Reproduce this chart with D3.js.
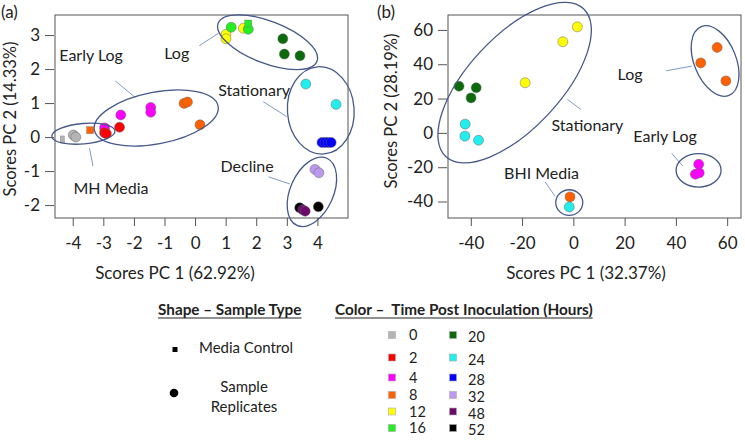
<!DOCTYPE html>
<html>
<head>
<meta charset="utf-8">
<script src="https://cdn.jsdelivr.net/npm/d3@7"></script>
<style>
  html, body { margin: 0; padding: 0; background: #fff; }
  svg { display: block; font-family: Lato, "Open Sans", sans-serif; }
</style>
</head>
<body>
<svg id="chart" width="745" height="440"></svg>
<script>
// ---------- DATA ----------
const hours = [0, 2, 4, 8, 12, 16, 20, 24, 28, 32, 48, 52];
const hourColors = ["#b4b4b4", "#ff0000", "#ff00ff", "#ff6000", "#ffff00", "#22ee22",
                    "#0b6b0b", "#22eeee", "#0000ff", "#bb99ee", "#6a0a6a", "#000000"];

// Panel (a): MH media
const aPC1  = [-4.34, -3.98, -3.90, -3.43, -2.96, -2.96, -2.90, -2.47, -2.43, -1.45, -1.45,
               -0.36, -0.25, 0.16, 1.01, 1.01, 1.18, 1.58, 1.74, 1.74, 2.87, 2.92, 3.43,
               3.62, 4.61, 4.15, 4.25, 4.35, 4.45, 3.92, 4.05, 3.42, 3.52, 3.60, 4.03];
const aPC2  = [-0.07, 0.06, 0.00, 0.20, 0.27, 0.13, 0.10, 0.29, 0.65, 0.87, 0.73,
               0.99, 1.03, 0.36, 3.02, 2.89, 3.23, 3.20, 3.34, 3.17, 2.89, 2.44, 2.39,
               1.56, 0.96, -0.16, -0.16, -0.16, -0.16, -0.95, -1.05, -2.08, -2.14, -2.18, -2.05];
const aHour = [0, 0, 0, 8, 4, 2, 2, 2, 4, 4, 4,
               8, 8, 8, 12, 12, 16, 12, 16, 16, 20, 20, 20,
               24, 24, 28, 28, 28, 28, 32, 32, 52, 48, 48, 52];
const aType = ["M", "S", "S", "M", "S", "S", "S", "S", "S", "S", "S",
               "S", "S", "S", "S", "S", "S", "S", "M", "S", "S", "S", "S",
               "S", "S", "S", "S", "S", "S", "S", "S", "S", "S", "S", "S"];

// Panel (b): BHI media
const bPC1  = [1.56, -4.1, -18.8, -44.6, -37.9, -39.9, -42.2, -42.3, -37.0,
               56.1, 49.7, 59.5, 48.9, 47.6, 49.1, -1.3, -1.6];
const bPC2  = [61.8, 53.1, 29.2, 27.2, 26.3, 20.4, 5.1, -1.9, -4.3,
               49.8, 40.8, 30.3, -18.3, -24.1, -23.3, -37.3, -43.2];
const bHour = [12, 12, 12, 20, 20, 20, 24, 24, 24, 8, 8, 8, 4, 4, 4, 8, 24];

// Axis ticks
const aTicksX = [-4, -3, -2, -1, 0, 1, 2, 3, 4];
const aTicksY = [-2, -1, 0, 1, 2, 3];
const bTicksX = [-40, -20, 0, 20, 40, 60];
const bTicksY = [-40, -20, 0, 20, 40, 60];

// Group annotations (label text)
const aGroups = ["MH Media", "Early Log", "Log", "Stationary", "Decline"];
const bGroups = ["Stationary", "Log", "Early Log", "BHI Media"];

// ---------- LAYOUT ----------
const svg = d3.select("#chart");
const ellipseColor = "#46598a";
const leaderColor = "#7f9ac6";
const axisColor = "#555";

const panels = [
  {
    tag: "(a)", tagX: 1,
    box: [55, 15, 348, 218],
    xDom: [-4.58, 5.0], yDom: [-2.38, 3.59],
    ticksX: aTicksX, ticksY: aTicksY,
    xTitle: "Scores PC 1 (62.92%)", yTitle: "Scores PC 2 (14.33%)",
    yTitleX: 16, yTitleY: 119, xTitleX: 175,
    pc1: aPC1, pc2: aPC2, hour: aHour, type: aType,
    groups: aGroups,
    // ellipse: [cx, cy, rx(x-units), ry(y-units), angle]
    ell: [[-3.65, 0.10, 1.036, 0.30, -5], [-1.27, 0.56, 2.06, 0.76, -11], [2.37, 2.79, 1.73, 0.62, 21],
          [4.11, 0.785, 1.09, 1.285, -4], [3.82, -1.61, 0.705, 1.08, 24]],
    // label centre [x, y], leader [x1, y1, x2, y2]
    lab: [[-2.75, -1.50], [-3.40, 2.41], [-0.60, 2.47], [1.93, 1.36], [1.70, -0.87]],
    lead: [[-3.45, -0.33, -3.34, -0.85], [-2.61, 1.65, -1.96, 1.17], [0.14, 2.69, 0.76, 3.05],
           [2.23, 1.04, 3.00, 0.60], [2.40, -1.17, 3.10, -1.38]]
  },
  {
    tag: "(b)", tagX: 377,
    box: [448, 15, 741, 218],
    xDom: [-48.9, 65.4], yDom: [-49.6, 68.7],
    ticksX: bTicksX, ticksY: bTicksY,
    xTitle: "Scores PC 1 (32.37%)", yTitle: "Scores PC 2 (28.19%)",
    yTitleX: 397, yTitleY: 111, xTitleX: 586,
    pc1: bPC1, pc2: bPC2, hour: bHour, type: bHour.map(() => "S"),
    groups: bGroups,
    ell: [[-22.9, 29.3, 39.4, 26.9, -47], [55.3, 41.9, 8.19, 21.6, -22],
          [48.85, -21.8, 8.78, 9.75, 0], [-1.6, -40.6, 5.27, 7.47, 0]],
    lab: [[5.5, 4.5], [22.1, 34.3], [35.8, -1.9], [-12.4, -23.5]],
    lead: [[2.9, 13.7, -2.3, 19.5], [36.2, 36.2, 46.2, 38.9], [38.4, -12.0, 42.7, -19.3], [-11.0, -28.6, -7.1, -37.0]]
  }
];

const colorOf = d3.scaleOrdinal().domain(hours).range(hourColors);

panels.forEach(p => {
  const [x0, y0, x1, y1] = p.box;
  const x = d3.scaleLinear().domain(p.xDom).range([x0, x1]);
  const y = d3.scaleLinear().domain(p.yDom).range([y1, y0]);
  const g = svg.append("g");

  // panel tag
  g.append("text").attr("x", p.tagX).attr("y", 18).attr("font-size", 17).attr("fill", "#222").text(p.tag);

  // box
  g.append("rect").attr("x", x0).attr("y", y0).attr("width", x1 - x0).attr("height", y1 - y0)
    .attr("fill", "none").attr("stroke", axisColor).attr("stroke-width", 1);

  // axes
  const ax = d3.axisBottom(x).tickValues(p.ticksX).tickSize(8).tickPadding(8);
  const ay = d3.axisLeft(y).tickValues(p.ticksY).tickSize(9).tickPadding(5);
  const gx = g.append("g").attr("transform", `translate(0,${y1})`).call(ax);
  const gy = g.append("g").attr("transform", `translate(${x0 - 1},0)`).call(ay);
  [gx, gy].forEach(a => {
    a.select(".domain").remove();
    a.selectAll("line").attr("stroke", axisColor);
    a.selectAll("text").attr("font-size", 17).attr("fill", "#222").attr("font-family", "Lato, sans-serif")
      .text(d => d < 0 ? "-" + Math.abs(d) : d);
  });
  gx.selectAll("text").attr("dy", "0.9em");

  // axis titles
  g.append("text").attr("x", p.xTitleX).attr("y", 279)
    .attr("text-anchor", "middle").attr("font-size", 17).attr("fill", "#222").text(p.xTitle);
  g.append("text").attr("transform", `translate(${p.yTitleX},${p.yTitleY}) rotate(-90)`)
    .attr("text-anchor", "middle").attr("font-size", 16.5).attr("fill", "#222").text(p.yTitle);

  // leaders
  g.selectAll("line.lead").data(p.lead).join("line").attr("class", "lead")
    .attr("x1", d => x(d[0])).attr("y1", d => y(d[1])).attr("x2", d => x(d[2])).attr("y2", d => y(d[3]))
    .attr("stroke", leaderColor).attr("stroke-width", 1);

  // points
  const pts = p.pc1.map((v, i) => ({ px: v, py: p.pc2[i], h: p.hour[i], t: p.type[i] }));
  g.selectAll("circle.pt").data(pts.filter(d => d.t === "S")).join("circle").attr("class", "pt")
    .attr("cx", d => x(d.px)).attr("cy", d => y(d.py)).attr("r", 5)
    .attr("fill", d => colorOf(d.h)).attr("stroke", "#666").attr("stroke-width", 0.5);
  g.selectAll("rect.pt").data(pts.filter(d => d.t === "M")).join("rect").attr("class", "pt")
    .attr("x", d => x(d.px) - (d.h === 0 ? 2 : 3.5)).attr("y", d => y(d.py) - 3.5)
    .attr("width", d => d.h === 0 ? 4 : 7).attr("height", 7)
    .attr("fill", d => colorOf(d.h)).attr("stroke", "#777").attr("stroke-width", 0.4);

  // ellipses
  g.selectAll("ellipse").data(p.ell).join("ellipse")
    .attr("transform", d => `translate(${x(d[0])},${y(d[1])}) rotate(${d[4]})`)
    .attr("rx", d => Math.abs(x(d[2]) - x(0)))
    .attr("ry", d => Math.abs(y(d[3]) - y(0)))
    .attr("fill", "none").attr("stroke", ellipseColor).attr("stroke-width", 1.3);

  // group labels
  g.selectAll("text.grp").data(p.groups).join("text").attr("class", "grp")
    .attr("x", (d, i) => x(p.lab[i][0])).attr("y", (d, i) => y(p.lab[i][1]))
    .attr("dy", "0.35em").attr("text-anchor", "middle").attr("font-size", 16).attr("fill", "#222")
    .text(d => d);
});

// ---------- LEGEND ----------
const lg = svg.append("g").attr("fill", "#222");
const h1 = lg.append("text").attr("x", 158).attr("y", 315).attr("font-size", 15.3).attr("font-weight", "bold")
  .text("Shape \u2013 Sample Type");
const h2 = lg.append("text").attr("x", 335).attr("y", 315).attr("font-size", 15.3).attr("font-weight", "bold")
  .style("white-space", "pre").text("Color \u2013  Time Post Inoculation (Hours)");
[h1, h2].forEach(h => {
  const b = h.node().getBBox();
  lg.append("line").attr("x1", b.x).attr("x2", b.x + b.width).attr("y1", 318).attr("y2", 318)
    .attr("stroke", "#222").attr("stroke-width", 1.2);
});

lg.append("rect").attr("x", 172.5).attr("y", 347).attr("width", 5).attr("height", 5).attr("fill", "#000");
lg.append("text").attr("x", 246).attr("y", 348).attr("dy", "0.35em").attr("text-anchor", "middle")
  .attr("font-size", 15).text("Media Control");
lg.append("circle").attr("cx", 174).attr("cy", 393).attr("r", 4.3).attr("fill", "#000");
lg.append("text").attr("x", 244).attr("y", 387).attr("dy", "0.35em").attr("text-anchor", "middle")
  .attr("font-size", 15).text("Sample");
lg.append("text").attr("x", 244).attr("y", 407).attr("dy", "0.35em").attr("text-anchor", "middle")
  .attr("font-size", 15).text("Replicates");

const rowY = [335, 357.5, 377.5, 395, 411.5, 428];
const colX = [392, 453];
const items = lg.selectAll("g.item").data(hours).join("g").attr("class", "item")
  .attr("transform", (d, i) => `translate(${colX[Math.floor(i / 6)]},${rowY[i % 6]})`);
items.append("rect").attr("x", -3.5).attr("y", -3.5).attr("width", 7).attr("height", 7)
  .attr("fill", d => colorOf(d)).attr("stroke", "#aaa").attr("stroke-width", 0.6);
items.append("text").attr("x", (d, i) => i < 6 ? 17 : 15).attr("y", (d, i) => i < 6 ? 0 : 2)
  .attr("dy", "0.35em").attr("font-size", 14.5).text(d => d);
</script>
</body>
</html>
